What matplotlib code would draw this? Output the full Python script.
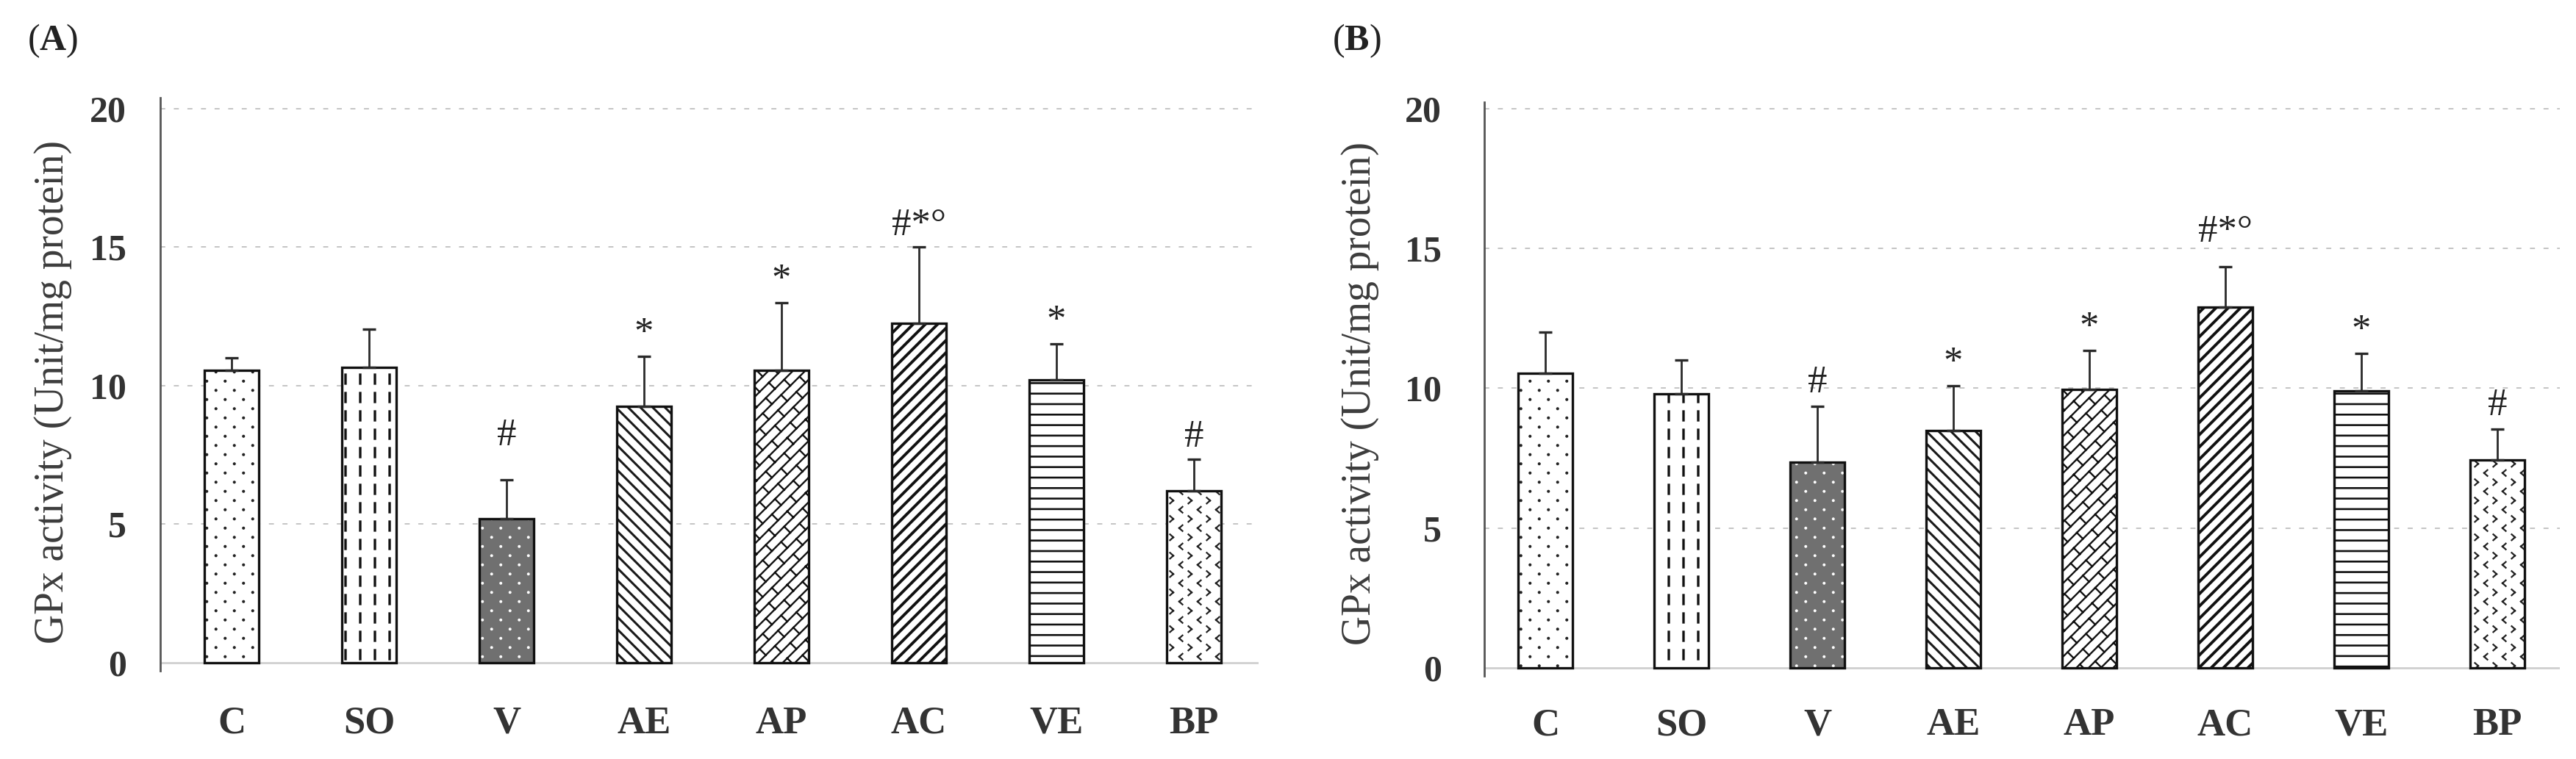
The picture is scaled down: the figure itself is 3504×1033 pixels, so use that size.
import numpy as np
import matplotlib
matplotlib.use("Agg")
import matplotlib.pyplot as plt
import matplotlib.hatch as mhatch
from matplotlib.path import Path
import warnings

warnings.filterwarnings("ignore")

# ---------------- data ----------------
groups = ['C', 'SO', 'V', 'AE', 'AP', 'AC', 'VE', 'BP']
gpx_A_mean = [10.55, 10.65, 5.2, 9.25, 10.55, 12.25, 10.2, 6.2]
gpx_A_err = [0.45, 1.4, 1.4, 1.8, 2.45, 2.75, 1.3, 1.15]
gpx_B_mean = [10.55, 9.8, 7.35, 8.5, 9.95, 12.9, 9.9, 7.45]
gpx_B_err = [1.45, 1.2, 2.0, 1.6, 1.4, 1.45, 1.35, 1.1]
sig_A = ['', '', '#', '*', '*', '#*°', '*', '#']
sig_B = ['', '', '#', '*', '*', '#*°', '*', '#']
y_ticks = [0, 5, 10, 15, 20]
panel_letters = ['A', 'B']
y_label = 'GPx activity (Unit/mg protein)'

# ---------------- layout / style ----------------
sig_gap_A = [0.45, 0.45, 1.25, 0.45, 0.45, 0.45, 0.45, 0.45]
sig_gap_B = [0.45, 0.45, 0.5, 0.45, 0.45, 0.9, 0.45, 0.5]

# ---------------- custom hatch patterns ----------------
_circ = Path.unit_circle()


def _seg_path(segs):
    v = np.array(segs, float).reshape(-1, 2)
    c = np.tile([Path.MOVETO, Path.LINETO], len(segs)).astype(Path.code_type)
    return v, c


def _dots(rows=8, cols=4, r=0.014):
    verts, codes = [], []
    for i in range(rows):
        y = (i + 0.5) / rows
        off = 0.5 if i % 2 else 0.0
        for j in range(cols):
            x = (j + 0.25 + off) / cols
            verts.append(_circ.vertices * r + [x, y])
            codes.append(_circ.codes)
    return np.concatenate(verts), np.concatenate(codes).astype(Path.code_type)


def _vdashes(cols=5, per=4, length=0.12):
    segs = []
    for j in range(cols):
        x = (j + 0.5) / cols
        for k in range(per):
            y0 = k / per + 0.03
            segs.append([(x, y0), (x, y0 + length)])
    return _seg_path(segs)


def _brick(n=6, m=2):
    segs = []
    for k in range(-8, 15):
        c = k / n
        if -1.1 < c < 1.1:
            segs.append([(-1.0, -1.0 + c), (2.0, 2.0 + c)])
        c2 = (k + 1) / n
        for j in range(-8, 12):
            s = (j + 0.5 * (k % 2)) / m
            p1 = ((s - c) / 2, (s + c) / 2)
            p2 = ((s - c2) / 2, (s + c2) / 2)
            if -0.25 < p1[0] < 1.25 and -0.25 < p1[1] < 1.25:
                segs.append([p1, p2])
    return _seg_path(segs)


def _hlines(n=7):
    segs = [[(-0.05, (k + 0.5) / n), (1.05, (k + 0.5) / n)] for k in range(n)]
    return _seg_path(segs)


def _chevrons(rows=8, cols=4, w=0.045, h=0.04):
    segs = []
    for i in range(rows):
        y = (i + 0.5) / rows
        for j in range(cols):
            if i % 2 == 0:
                x = (j + 0.25) / cols
                segs.append([(x + w / 2, y + h), (x - w / 2, y)])
                segs.append([(x - w / 2, y), (x + w / 2, y - h)])
            else:
                x = (j + 0.75) / cols
                segs.append([(x - w / 2, y + h), (x + w / 2, y)])
                segs.append([(x + w / 2, y), (x - w / 2, y - h)])
    return _seg_path(segs)


_CUSTOM = {'d': _dots(), 'v': _vdashes(), 'b': _brick(), 'h': _hlines(), 'c': _chevrons()}


class _CustomHatch(mhatch.HatchPatternBase):
    def __init__(self, hatch, density):
        self.parts = [_CUSTOM[ch] for ch in (hatch or '') if ch in _CUSTOM]
        self.num_vertices = sum(len(p[0]) for p in self.parts)

    def set_vertices_and_codes(self, vertices, codes):
        i = 0
        for v, c in self.parts:
            n = len(v)
            vertices[i:i + n] = v
            codes[i:i + n] = c
            i += n


mhatch._hatch_types.append(_CustomHatch)
mhatch._validate_hatch_pattern = lambda hatch: None

# per-group fill style: (face, hatch, hatch colour, hatch linewidth)
bar_styles = [
    ('white', 'd', '#222222', 0.9),
    ('white', 'v', '#111111', 2.4),
    ('#707070', 'd', 'white', 0.8),
    ('white', '\\\\', '#1a1a1a', 2.2),
    ('white', 'b', '#111111', 1.7),
    ('white', '//', '#111111', 2.8),
    ('white', 'h', '#111111', 1.9),
    ('white', 'c', '#222222', 1.6),
]

plt.rcParams['font.family'] = ['Liberation Serif', 'DejaVu Serif']
plt.rcParams['mathtext.fontset'] = 'custom'
plt.rcParams['mathtext.rm'] = 'Liberation Serif'
plt.rcParams['mathtext.bf'] = 'Liberation Serif:bold'
plt.rcParams['hatch.linewidth'] = 1.5

W, H = 3505, 1033
fig = plt.figure(figsize=(W / 100, H / 100), dpi=100)

panels = [
    dict(mean=gpx_A_mean, err=gpx_A_err, sig=sig_A, gap=sig_gap_A,
         rect=[218 / W, 1 - 913.3 / H, 1494 / W, (913.3 - 132.9) / H],
         xlim=(-0.519, 7.471), ylim=(-0.3, 20.4), ypad=33, xpad=34,
         ylab=(-0.0884, 0.487), letter_x=37),
    dict(mean=gpx_B_mean, err=gpx_B_err, sig=sig_B, gap=sig_gap_B,
         rect=[2019 / W, 1 - 920.4 / H, 1463 / W, (920.4 - 138.5) / H],
         xlim=(-0.449, 7.459), ylim=(-0.3, 20.25), ypad=42, xpad=31,
         ylab=(-0.106, 0.492), letter_x=1812),
]

x = np.arange(len(groups))
bw = 0.4

for p, letter in zip(panels, panel_letters):
    ax = fig.add_axes(p['rect'])
    ax.set_xlim(*p['xlim'])
    ax.set_ylim(*p['ylim'])

    # grid + baseline
    for t in y_ticks[1:]:
        ax.axhline(t, color='#c4c4c4', lw=1.4, ls=(0, (3.5, 6)), zorder=0.5)
    ax.axhline(0, color='#cfcfcf', lw=2.0, zorder=0.6)

    # bars: hatch layer then outline
    for i in range(len(groups)):
        face, hatch, hcol, hlw = bar_styles[i]
        bars = ax.bar(x[i], p['mean'][i], width=bw, color=face,
                      edgecolor=hcol, linewidth=0, zorder=2)
        for r in bars:
            try:
                r.set_hatch(hatch)
            except Exception:
                r._hatch = hatch
            if hasattr(r, 'set_hatch_linewidth'):
                r.set_hatch_linewidth(hlw)
        ax.bar(x[i], p['mean'][i], width=bw, fill=False,
               edgecolor='#111111', linewidth=2.4, zorder=3)

    ax.errorbar(x, p['mean'], yerr=[np.zeros(len(x)), p['err']], fmt='none',
                ecolor='#2a2a2a', elinewidth=2.0, capsize=6.5, capthick=2.4,
                zorder=4)

    for i, s in enumerate(p['sig']):
        if s:
            ax.text(x[i], p['mean'][i] + p['err'][i] + p['gap'][i], s,
                    ha='center', va='baseline', fontsize=38, color='#222222',
                    zorder=5)

    # axes styling
    for side in ['top', 'right', 'bottom']:
        ax.spines[side].set_visible(False)
    ax.spines['left'].set_color('#555555')
    ax.spines['left'].set_linewidth(2.0)

    ax.set_yticks(y_ticks)
    ax.set_yticklabels([str(t) for t in y_ticks], fontsize=36,
                       fontweight='bold', color='#333333')
    ax.set_xticks(x)
    ax.set_xticklabels(groups, fontsize=38, fontweight='bold', color='#333333')
    ax.tick_params(axis='y', length=0, pad=p['ypad'])
    ax.tick_params(axis='x', length=0, pad=p['xpad'])

    ax.set_ylabel(y_label, fontsize=40, color='#3c3c3c')
    ax.yaxis.label.set_verticalalignment('baseline')
    ax.yaxis.set_label_coords(*p['ylab'])

    fig.text(p['letter_x'] / W, 1 - 56 / H, '(' + r'$\mathbf{' + letter + '}$' + ')',
             fontsize=36, ha='left', va='center', color='#222222')

fig.savefig('out.png', dpi=100)
